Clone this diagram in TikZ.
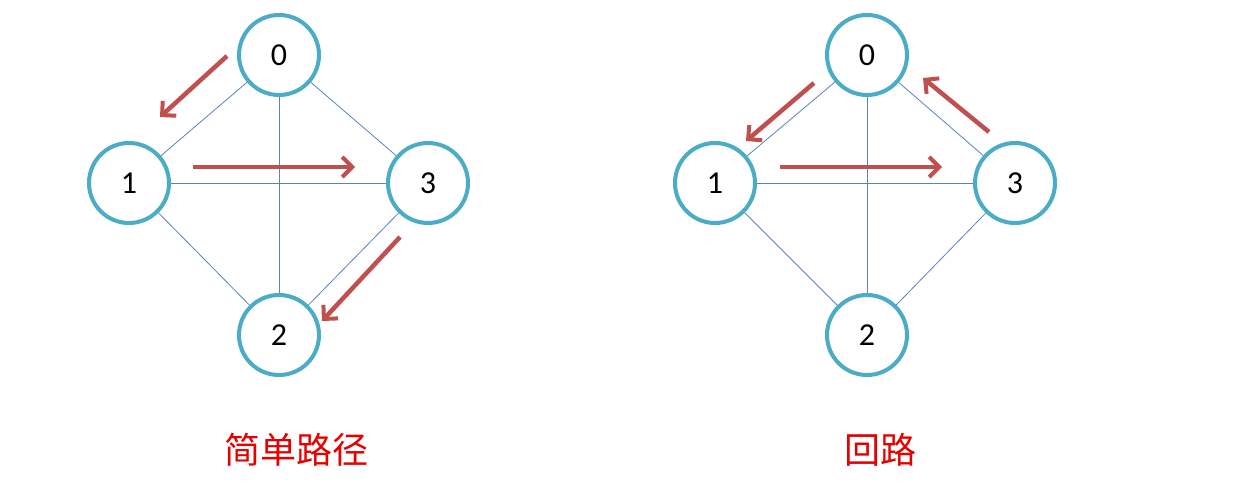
\documentclass[tikz,border=0pt]{standalone}
\usepackage{fontspec}
\setmainfont{Carlito}
\newfontfamily\cjk{Noto Sans CJK SC}
\usetikzlibrary{arrows.meta}
\definecolor{ring}{RGB}{75,172,198}
\definecolor{edgeblue}{RGB}{90,130,190}
\definecolor{arrred}{RGB}{192,80,77}
\definecolor{labred}{RGB}{230,0,0}
\tikzset{
  vtx/.style={circle, draw=ring, line width=4pt, minimum size=80pt, inner sep=0pt, fill=white, font=\fontsize{32}{32}\selectfont},
  gedge/.style={draw=edgeblue, line width=0.8pt},
  pathar/.style={draw=arrred, line width=4.5pt, -{Straight Barb[length=10pt, width=20pt, line width=4pt]}},
  captext/.style={text=labred, font=\cjk\fontsize{36}{36}\selectfont}
}
\begin{document}
\begin{tikzpicture}[x=1pt,y=-1pt]
\useasboundingbox (0,0) rectangle (1245,497);
% left graph
\node[vtx] (a0) at (279,55) {0};
\node[vtx] (a1) at (129,183) {1};
\node[vtx] (a3) at (428,183) {3};
\node[vtx] (a2) at (279,335) {2};
\draw[gedge] (a0) -- (a1);
\draw[gedge] (a0) -- (a3);
\draw[gedge] (a0) -- (a2);
\draw[gedge] (a1) -- (a3);
\draw[gedge] (a1) -- (a2);
\draw[gedge] (a3) -- (a2);
\coordinate (la1s) at (227,56);
\coordinate (la1e) at (160,117);
\coordinate (la2s) at (193,167);
\coordinate (la2e) at (355,167);
\coordinate (la3s) at (400,237);
\coordinate (la3e) at (322,321);
\draw[pathar] (la1s) -- (la1e);
\draw[pathar] (la2s) -- (la2e);
\draw[pathar] (la3s) -- (la3e);
\node[captext] (lcap) at (296,450) {简单路径};
% right graph
\node[vtx] (b0) at (867,55) {0};
\node[vtx] (b1) at (715,183) {1};
\node[vtx] (b3) at (1015,183) {3};
\node[vtx] (b2) at (867,335) {2};
\draw[gedge] (b0) -- (b1);
\draw[gedge] (b0) -- (b3);
\draw[gedge] (b0) -- (b2);
\draw[gedge] (b1) -- (b3);
\draw[gedge] (b1) -- (b2);
\draw[gedge] (b3) -- (b2);
\coordinate (rb1s) at (814,83);
\coordinate (rb1e) at (746,141);
\coordinate (rb2s) at (780,167);
\coordinate (rb2e) at (942,167);
\coordinate (rb3s) at (989,132);
\coordinate (rb3e) at (923,78);
\draw[pathar] (rb1s) -- (rb1e);
\draw[pathar] (rb2s) -- (rb2e);
\draw[pathar] (rb3s) -- (rb3e);
\node[captext] (rcap) at (880,450) {回路};
\end{tikzpicture}
\end{document}
